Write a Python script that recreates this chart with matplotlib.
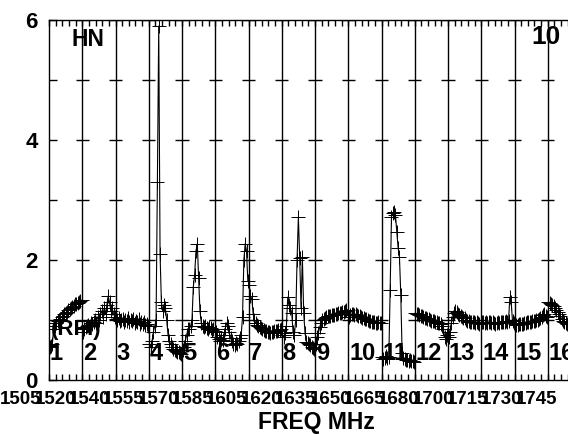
import numpy as np
import matplotlib
matplotlib.use("Agg")
import matplotlib.pyplot as plt
import matplotlib.transforms as mtransforms

plt.rcParams['font.family'] = ['Liberation Sans', 'DejaVu Sans']
plt.rcParams['font.weight'] = 'bold'

seg01 = [0.55, 0.57, 0.6, 0.85, 0.9, 0.95, 0.98, 1.0, 1.02, 1.05, 1.07, 1.1, 1.12,
         1.14, 1.16, 1.18, 1.2, 1.22, 1.24, 1.26, 1.27, 1.29, 1.3, 1.32, 1.33]
seg02 = [0.8, 0.85, 0.88, 0.9, 0.92, 0.9, 0.95, 0.93, 0.97, 1.0, 0.95, 1.05, 1.0,
         1.1, 1.15, 1.05, 1.2, 1.1, 1.25, 1.4, 1.3, 1.15, 1.2, 1.1, 1.05]
seg03 = [1.02, 1.0, 1.03, 0.98, 1.0, 1.02, 0.97, 1.0, 0.99, 1.03, 0.96, 1.0, 0.98,
         1.01, 0.95, 0.99, 0.97, 1.02, 0.94, 0.97, 0.93, 0.96, 0.92, 0.94, 0.9]
seg04 = [0.6, 0.55, 0.65, 0.8, 0.9, 1.0, 3.3, 5.9, 2.1, 1.3, 1.15, 1.25, 1.2,
         1.0, 0.75, 0.65, 0.6, 0.55, 0.52, 0.5, 0.48, 0.47, 0.46, 0.45, 0.44]
seg05 = [0.5, 0.55, 0.65, 0.75, 0.85, 0.85, 0.9, 1.0, 1.55, 1.75, 2.15, 2.27, 1.7,
         1.15, 0.95, 0.9, 0.88, 0.9, 0.87, 0.85, 0.88, 0.86, 0.84, 0.85, 0.82]
seg06 = [0.8, 0.72, 0.68, 0.65, 0.7, 0.66, 0.75, 0.85, 0.95, 0.9, 0.8, 0.7, 0.65,
         0.6, 0.58, 0.62, 0.6, 0.65, 0.7, 0.75, 1.05, 2.0, 2.27, 2.15, 1.65]
seg07 = [1.58, 1.4, 1.35, 1.1, 1.0, 0.95, 0.92, 0.9, 0.88, 0.86, 0.85, 0.83, 0.82,
         0.81, 0.8, 0.8, 0.79, 0.8, 0.8, 0.81, 0.82, 0.82, 0.83, 0.84, 0.85]
seg08 = [0.75, 0.72, 0.78, 0.9, 1.38, 1.25, 1.2, 1.12, 0.8, 0.75, 1.0, 2.0, 2.72,
         2.03, 1.2, 2.05, 1.12, 0.78, 0.64, 0.62, 0.6, 0.58, 0.55, 0.53, 0.52]
seg09 = [0.6, 0.72, 0.78, 0.88, 0.95, 1.0, 1.02, 1.04, 1.05, 1.06, 1.06, 1.07, 1.08,
         1.08, 1.09, 1.1, 1.1, 1.11, 1.12, 1.12, 1.13, 1.14, 1.15, 1.16, 1.17]
seg10 = [1.05, 1.08, 1.1, 1.1, 1.09, 1.1, 1.08, 1.07, 1.06, 1.05, 1.04, 1.03, 1.02,
         1.01, 1.0, 0.99, 0.98, 0.97, 0.96, 0.96, 0.95, 0.95, 0.96, 0.95, 0.95]
seg11 = [0.38, 0.35, 0.37, 0.4, 0.36, 0.38, 1.5, 2.72, 2.78, 2.8, 2.75, 2.47, 2.2,
         2.05, 1.42, 0.45, 0.37, 0.35, 0.33, 0.34, 0.32, 0.33, 0.31, 0.32, 0.3]
seg12 = [1.12, 1.1, 1.1, 1.08, 1.07, 1.06, 1.05, 1.04, 1.03, 1.02, 1.02, 1.0, 0.99,
         0.98, 0.98, 0.97, 0.96, 0.95, 0.95, 0.93, 0.9, 0.85, 0.72, 0.68, 0.75]
seg13 = [0.72, 0.8, 0.95, 1.05, 1.12, 1.15, 1.13, 1.1, 1.08, 1.07, 1.05, 1.04, 1.03,
         1.0, 0.99, 0.98, 0.97, 0.96, 0.97, 0.96, 0.95, 0.96, 0.95, 0.94, 0.95]
seg14 = [0.97, 0.96, 0.95, 0.96, 0.95, 0.97, 0.96, 0.95, 0.96, 0.95, 0.94, 0.95, 0.96,
         0.95, 0.96, 0.97, 0.96, 0.97, 0.98, 0.97, 0.98, 1.38, 1.3, 0.98, 0.95]
seg15 = [0.93, 0.92, 0.92, 0.93, 0.93, 0.94, 0.94, 0.95, 0.95, 0.96, 0.96, 0.97, 0.97,
         0.98, 0.98, 0.99, 1.0, 1.0, 1.02, 1.03, 1.05, 1.08, 1.1, 1.07, 1.05]
seg16 = [1.3, 1.29, 1.27, 1.25, 1.23, 1.2, 1.17, 1.14, 1.1, 1.06, 1.02, 0.99, 0.96,
         0.95, 0.94, 0.94, 0.93, 0.93, 0.94, 0.94, 0.95, 0.95, 0.96, 0.96, 0.97]

segments = [seg01, seg02, seg03, seg04, seg05, seg06, seg07, seg08,
            seg09, seg10, seg11, seg12, seg13, seg14, seg15, seg16]

freq_labels = ["1505", "1520", "1540", "1555", "1570", "1585", "1605", "1620",
               "1635", "1650", "1665", "1680", "1700", "1715", "1730", "1745"]

NSEG = len(segments)
YMAX = 6

fig = plt.figure(figsize=(5.68, 4.34), dpi=100)
# axes runs a bit past the right edge, like the original
ax = fig.add_axes([49/568, 54/434, 532/568, 360/434])
ax.set_xlim(0, NSEG)
ax.set_ylim(0, YMAX)

for k, vals in enumerate(segments):
    n = len(vals)
    x = k + (np.arange(n) + 0.5) / n
    ax.plot(x, vals, color='black', lw=0.8, marker='+', ms=9.5, mew=0.7)
    ax.text(k + 0.03, 0.44, str(k + 1), fontsize=17, fontweight='bold',
            ha='left', va='center')

# sub-band separators with a little cross at every unit
bounds = np.arange(1, NSEG + 1)
ax.vlines(bounds, 0, YMAX, color='black', lw=1.0)
for yv in range(1, YMAX + 1):
    ax.hlines([yv] * len(bounds), bounds - 0.2, bounds + 0.2, color='black', lw=1.0)

ax.set_yticks([0, 2, 4, 6])
ax.set_yticks([1, 3, 5], minor=True)
ax.tick_params(axis='y', which='both', direction='in', length=6, width=1,
               labelsize=16, pad=8, right=False)
ax.set_xticks(np.arange(0, NSEG + 1))
ax.set_xticks(np.arange(0, NSEG + 0.01, 0.2), minor=True)
ax.tick_params(axis='x', which='both', direction='in', length=4, width=1,
               top=True, labelbottom=False)
for lab in ax.get_yticklabels():
    lab.set_fontweight('bold')
for sp in ax.spines.values():
    sp.set_linewidth(1.0)

trans = mtransforms.blended_transform_factory(ax.transData, ax.transAxes)
for i, lab in enumerate(freq_labels):
    ax.text(-0.842 + 1.033 * i, -0.054, lab, transform=trans, fontsize=13.5,
            fontweight='bold', ha='center', va='center', clip_on=False)

fig.text(316/568, 1 - 423/434, "FREQ MHz", fontsize=16.5, fontweight='bold',
         ha='center', va='center')
ax.text(0.69, 5.675, "HN", fontsize=16.5, fontweight='bold', ha='left', va='center')
ax.text(14.5, 5.72, "10", fontsize=19, fontweight='bold', ha='left', va='center')
ax.text(0.06, 0.85, "(RFI)", fontsize=16, fontweight='bold', ha='left', va='center')

fig.savefig("out.png", dpi=100)
